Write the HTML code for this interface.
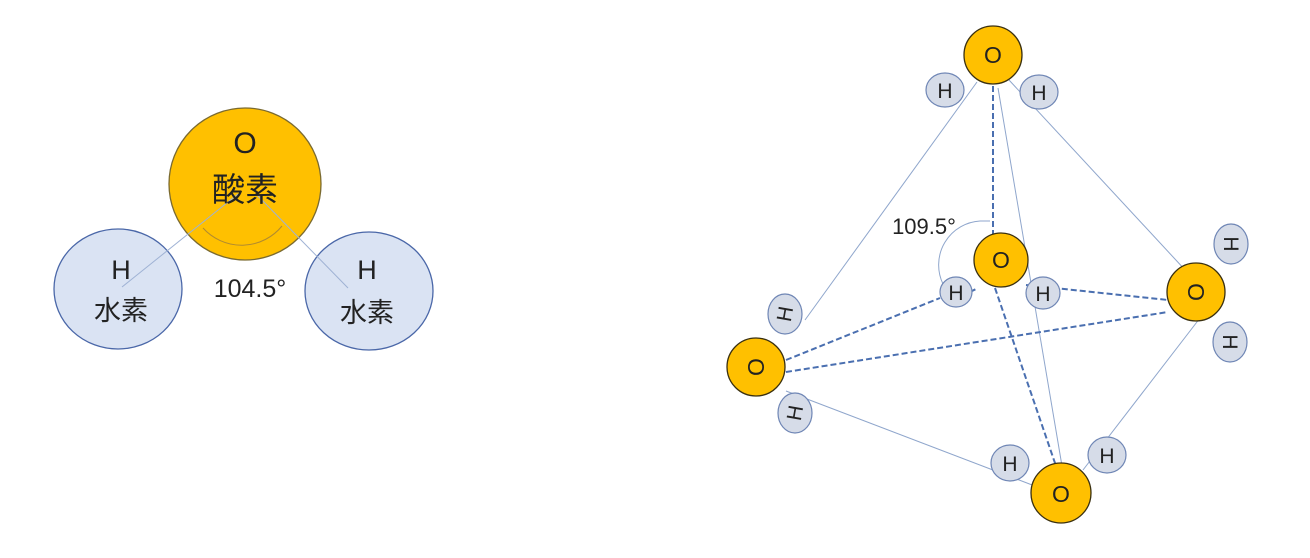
<!DOCTYPE html>
<html><head><meta charset="utf-8"><style>
html,body{margin:0;padding:0;background:#fff;width:1310px;height:558px;overflow:hidden}
svg{display:block}
text{font-family:"Liberation Sans","Noto Sans CJK JP",sans-serif;fill:#222}
</style></head><body>
<svg width="1310" height="558" viewBox="0 0 1310 558">
<ellipse cx="118" cy="289" rx="64" ry="60" fill="#dae3f3" stroke="#4a67a8" stroke-width="1.3"/>
<ellipse cx="369" cy="291" rx="64" ry="59" fill="#dae3f3" stroke="#4a67a8" stroke-width="1.3"/>
<circle cx="245" cy="184" r="76" fill="#ffc000" stroke="#7a6a30" stroke-width="1.3"/>
<line x1="238" y1="194" x2="122" y2="287" stroke="#9fb2d4" stroke-width="1"/>
<line x1="256" y1="194" x2="348" y2="288" stroke="#9fb2d4" stroke-width="1"/>
<path d="M203 228 A52 52 0 0 0 282 226" fill="none" stroke="#b08a30" stroke-width="1"/>
<text x="245" y="153" font-size="30" text-anchor="middle">O</text>
<text x="245" y="201" font-size="33" text-anchor="middle">酸素</text>
<text x="121" y="279" font-size="27" text-anchor="middle">H</text>
<text x="121" y="320" font-size="27" text-anchor="middle">水素</text>
<text x="367" y="279" font-size="27" text-anchor="middle">H</text>
<text x="367" y="322" font-size="27" text-anchor="middle">水素</text>
<text x="250" y="297" font-size="25" text-anchor="middle">104.5°</text>

<g stroke="#8fa6cc" stroke-width="1" fill="none">
<line x1="977" y1="82" x2="805" y2="320"/>
<line x1="1009" y1="80" x2="1187" y2="272"/>
<line x1="786" y1="391" x2="1040" y2="488"/>
<line x1="1200" y1="318" x2="1083" y2="470"/>
<line x1="998" y1="88" x2="1062" y2="466"/>
<path d="M990 221 L980 221 A44 44 0 0 0 943 284"/>
</g>
<g stroke="#4a6fb0" stroke-width="2" stroke-dasharray="6,3" fill="none">
<line x1="993" y1="86" x2="993" y2="234"/>
<line x1="786" y1="360" x2="940" y2="298"/>
<line x1="786" y1="372" x2="1168" y2="312"/>
<line x1="1026" y1="285" x2="1168" y2="300"/>
<line x1="995" y1="288" x2="1056" y2="466"/>
<line x1="970" y1="292" x2="978" y2="288"/>
</g>
<g fill="#ffc000" stroke="#3a3010" stroke-width="1.3">
<circle cx="993" cy="55" r="29"/>
<circle cx="1001" cy="260" r="27"/>
<circle cx="1196" cy="292" r="29"/>
<circle cx="756" cy="367" r="29"/>
<circle cx="1061" cy="493" r="30"/>
</g>
<g fill="#d6dce8" stroke="#6f86b5" stroke-width="1.2">
<ellipse cx="945" cy="90" rx="19" ry="17"/>
<ellipse cx="1039" cy="92" rx="19" ry="17"/>
<ellipse cx="956" cy="292" rx="16" ry="15"/>
<ellipse cx="1043" cy="293" rx="17" ry="16"/>
<ellipse cx="1231" cy="244" rx="17" ry="20"/>
<ellipse cx="1230" cy="342" rx="17" ry="20"/>
<ellipse cx="785" cy="314" rx="17" ry="20"/>
<ellipse cx="795" cy="413" rx="17" ry="20"/>
<ellipse cx="1010" cy="463" rx="19" ry="18"/>
<ellipse cx="1107" cy="455" rx="19" ry="18"/>
</g>
<g font-size="23" text-anchor="middle">
<text x="993" y="63">O</text>
<text x="1001" y="268">O</text>
<text x="1061" y="502">O</text>
<text transform="translate(1196,292) rotate(90)" y="8">O</text>
<text transform="translate(756,367) rotate(-90)" y="8">O</text>
</g>
<g font-size="21" text-anchor="middle">
<text x="945" y="98">H</text>
<text x="1039" y="100">H</text>
<text x="956" y="300">H</text>
<text x="1043" y="301">H</text>
<text x="1010" y="471">H</text>
<text x="1107" y="463">H</text>
<text transform="translate(1231,244) rotate(90)" y="7">H</text>
<text transform="translate(1230,342) rotate(90)" y="7">H</text>
<text transform="translate(785,314) rotate(-80)" y="7">H</text>
<text transform="translate(795,413) rotate(-80)" y="7">H</text>
</g>
<text x="924" y="234" font-size="22" text-anchor="middle">109.5°</text>
</svg>
</body></html>
